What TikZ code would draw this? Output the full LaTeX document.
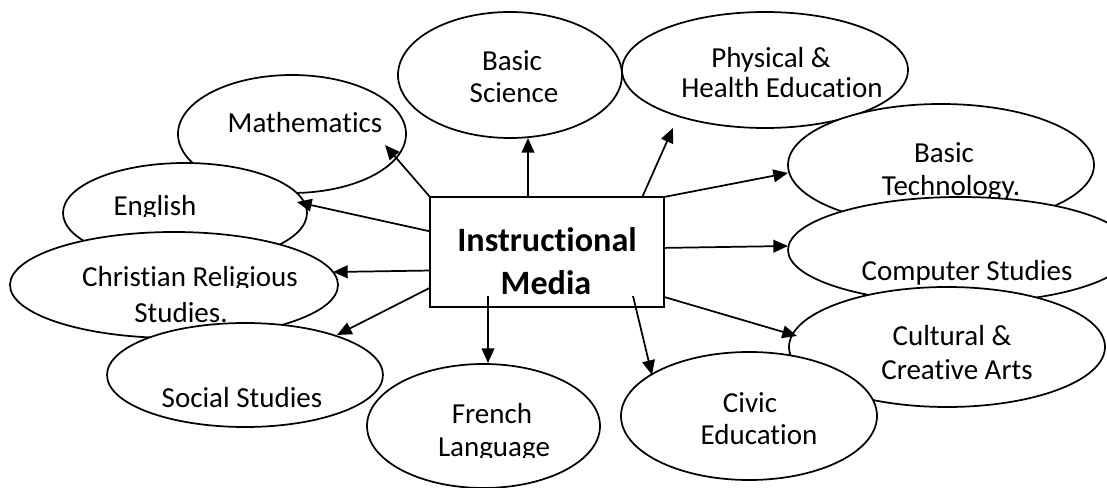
\documentclass[tikz,border=0pt]{standalone}
\usepackage{fontspec}
\setmainfont{Carlito}[Ligatures={NoCommon}]
\usepackage{tikz}
\usetikzlibrary{shapes,arrows.meta,positioning}

\tikzset{
  subj/.style={draw, ellipse, fill=white, line width=1.3pt, inner sep=0pt, outer sep=0pt},
  lbl/.style={inner sep=0pt, anchor=base, font=\fontsize{21.75pt}{26pt}\selectfont},
  hub/.style={draw, fill=white, line width=1.3pt, inner sep=0pt, outer sep=0pt},
  hubtext/.style={inner sep=0pt, anchor=base, font=\bfseries\fontsize{25.6pt}{30pt}\selectfont},
  arr/.style={-{Triangle[length=11pt,width=9.5pt]}, line width=1.3pt}
}

\begin{document}
\begin{tikzpicture}[x=0.75pt,y=0.75pt,yscale=-1,xscale=1]
    \path[use as bounding box] (0,0) rectangle (1107,488);

    % Ellipse
    \node[subj, minimum width=171pt, minimum height=88.5pt] (maths) at (292,134) {};
    \node[lbl] (mathsText) at (305,133) {Mathematics};
    % Ellipse
    \node[subj, minimum width=183pt, minimum height=75pt] (english) at (185,213) {};
    \begin{scope}
      \clip (60,185) rectangle (310,217);
      \node[lbl] (englishText) at (155,216) {English};
    \end{scope}
    % Ellipse
    \node[subj, minimum width=246pt, minimum height=79.5pt] (crs) at (174,285) {};
    \begin{scope}
      \clip (20,255) rectangle (330,288);
      \node[lbl] (crsTextA) at (190,287) {Christian Religious};
    \end{scope}
    \begin{scope}
      \clip (20,290) rectangle (330,324);
      \node[lbl] (crsTextB) at (181,323) {Studies.};
    \end{scope}
    % Ellipse
    \node[subj, minimum width=207pt, minimum height=78pt] (social) at (245,375) {};
    \node[lbl] (socialText) at (242,407) {Social Studies};
    % Ellipse
    \node[subj, minimum width=174.75pt, minimum height=93pt] (french) at (483.5,426) {};
    \node[lbl] (frenchTextA) at (492,423) {French};
    \begin{scope}
      \clip (380,425) rectangle (590,457);
      \node[lbl] (frenchTextB) at (494,456) {Language};
    \end{scope}
    % Ellipse
    \node[subj, minimum width=168pt, minimum height=94.5pt] (science) at (510,75) {};
    \node[lbl] (scienceTextA) at (512,71) {Basic};
    \node[lbl] (scienceTextB) at (514,103) {Science};
    % Ellipse
    \node[subj, minimum width=214.5pt, minimum height=87pt] (physical) at (765,70) {};
    \node[lbl] (physicalTextA) at (771,68) {Physical \&};
    \node[lbl] (physicalTextB) at (782,98) {Health Education};
    % Ellipse
    \node[subj, minimum width=229.5pt, minimum height=91.5pt] (tech) at (941,165) {};
    \node[lbl] (techTextA) at (944,163) {Basic};
    \node[lbl] (techTextB) at (951,196) {Technology.};
    % Ellipse
    \node[subj, minimum width=258pt, minimum height=79.5pt] (computer) at (960,250) {};
    \node[lbl] (computerText) at (967,281) {Computer Studies};
    % Ellipse
    \node[subj, minimum width=237pt, minimum height=90pt] (cultural) at (947,347) {};
    \node[lbl] (culturalTextA) at (952,345) {Cultural \&};
    \node[lbl] (culturalTextB) at (957,379) {Creative Arts};
    % Ellipse
    \node[subj, minimum width=192pt, minimum height=96pt] (civic) at (749,416) {};
    \node[lbl] (civicTextA) at (750,412) {Civic};
    \node[lbl] (civicTextB) at (759,444) {Education};

    % Text Node
    \node[hub, minimum width=175.5pt, minimum height=82.5pt] (media) at (547,252) {};
    \node[hubtext] (mediaTextA) at (547,252) {Instructional};
    \node[hubtext] (mediaTextB) at (546,295) {Media};

    % Arrow tips
    \coordinate (mathsTip) at (385,145);
    \coordinate (englishTip) at (297,202);
    \coordinate (crsTip) at (333,272);
    \coordinate (socialTip) at (337,335);
    \coordinate (frenchFrom) at (488,296);
    \coordinate (frenchTip) at (488,363);
    \coordinate (civicFrom) at (633,296);
    \coordinate (civicTip) at (652,375);
    \coordinate (culturalTip) at (797,336);
    \coordinate (computerTip) at (788,246);
    \coordinate (techTip) at (788,173);
    \coordinate (physicalTip) at (673,128);
    \coordinate (scienceTip) at (528,138);

    %Straight Lines
    \draw[arr] (media.north west) -- (mathsTip);
    \draw[arr] (media.170.8) -- (englishTip);
    \draw[arr] (media.189.7) -- (crsTip);
    \draw[arr] (media.197.5) -- (socialTip);
    \draw[arr] (frenchFrom) -- (frenchTip);
    \draw[arr] (civicFrom) -- (civicTip);
    \draw[arr] (media.339.4) -- (culturalTip);
    \draw[arr] (media.2.9) -- (computerTip);
    \draw[arr] (media.north east) -- (techTip);
    \draw[arr] (media.30.6) -- (physicalTip);
    \draw[arr] (media.109.1) -- (scienceTip);

\end{tikzpicture}
\end{document}
